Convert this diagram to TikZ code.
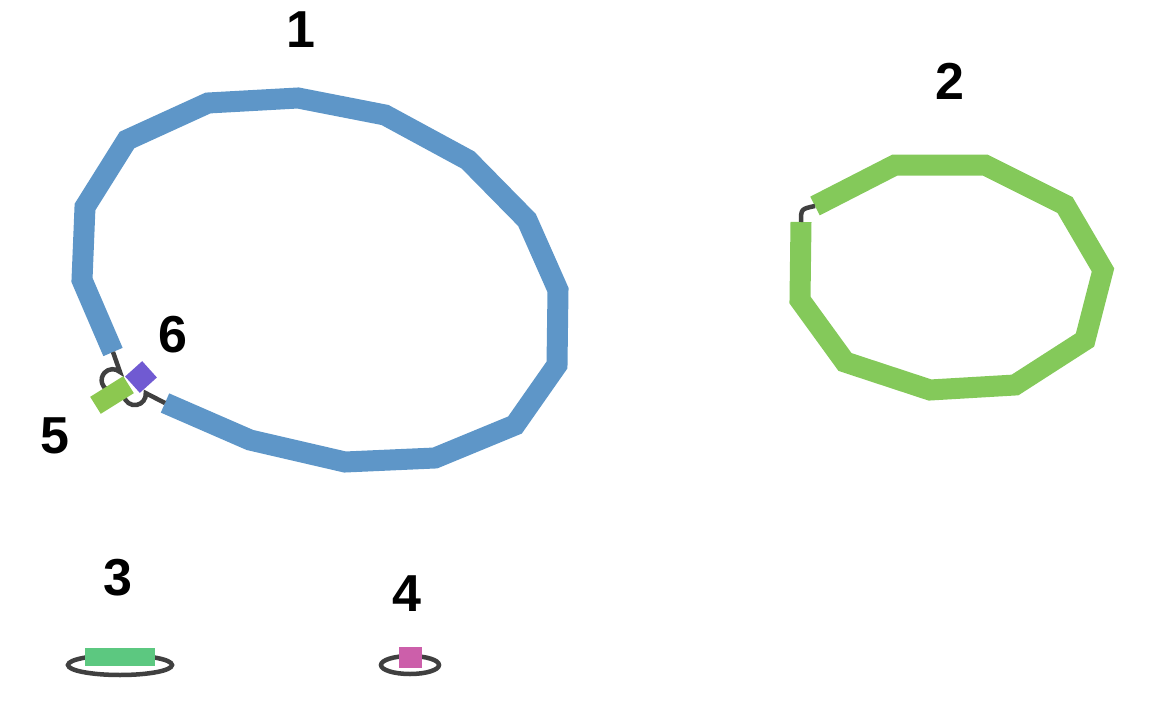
\documentclass[tikz,border=0pt]{standalone}
\usepackage{fontspec}
\setmainfont{Liberation Sans}
\definecolor{ringblue}{RGB}{94,150,200}
\definecolor{ringgreen}{RGB}{132,201,90}
\definecolor{partgreen}{RGB}{140,200,80}
\definecolor{partviolet}{RGB}{112,90,210}
\definecolor{minigreen}{RGB}{92,200,128}
\definecolor{minipink}{RGB}{204,95,170}
\begin{document}
\begin{tikzpicture}[x=1pt,y=-1pt,
    ring/.style={line width=21pt},
    link/.style={black!75,line width=4.5pt},
    num/.style={font=\bfseries\fontsize{52}{52}\selectfont,inner sep=0pt}]
  \useasboundingbox (0,0) rectangle (1168,709);
  % velky modry kruh 1, mezera vlevo dole
  \coordinate (bA) at (113,352);
  \coordinate (bB) at (165,403);
  \draw[ring,ringblue] (bB)--(250,440)--(345,462)--(435,458)--(515,425)--(557,365)
        --(558,290)--(527,220)--(468,160)--(385,115)--(298,98)--(208,103)
        --(127,140)--(85,207)--(82,280)--(bA);
  % spojky se smyckami
  \coordinate (jA) at (120,372);
  \draw[link] (bA)--(jA) arc(-48:-240:11);
  \draw[link] (124,396) arc(170:-5:11)--(bB);
  % dilky 6 a 5
  \node[fill=partviolet,minimum width=23pt,minimum height=22pt,rotate=42,inner sep=0pt]
        (p6) at (141,377) {};
  \node[fill=partgreen,minimum width=39pt,minimum height=20pt,rotate=32,inner sep=0pt]
        (p5) at (112,395) {};
  % zeleny kruh 2
  \coordinate (gA) at (801,222);
  \coordinate (gB) at (815,206);
  \draw[ring,ringgreen] (gB)--(895,165)--(985,165)--(1065,205)--(1103,270)--(1085,340)
        --(1015,385)--(930,390)--(845,362)--(800,300)--(gA);
  \draw[link] (gA) .. controls (801,209) .. (gB);
  % male kruhy 3 a 4
  \draw[link] (120,665) ellipse (52 and 10);
  \node[fill=minigreen,minimum width=70pt,minimum height=18pt,inner sep=0pt] (p3) at (120,657) {};
  \draw[link] (410,665) ellipse (29 and 9);
  \node[fill=minipink,minimum width=23pt,minimum height=21pt,inner sep=0pt] (p4) at (410,657) {};
  % cisla
  \node[num] (n1) at (301,30) {1};
  \node[num] (n2) at (950,81) {2};
  \node[num] (n3) at (118,578) {3};
  \node[num] (n4) at (407,594) {4};
  \node[num] (n5) at (55,436) {5};
  \node[num] (n6) at (173,335) {6};
\end{tikzpicture}
\end{document}
